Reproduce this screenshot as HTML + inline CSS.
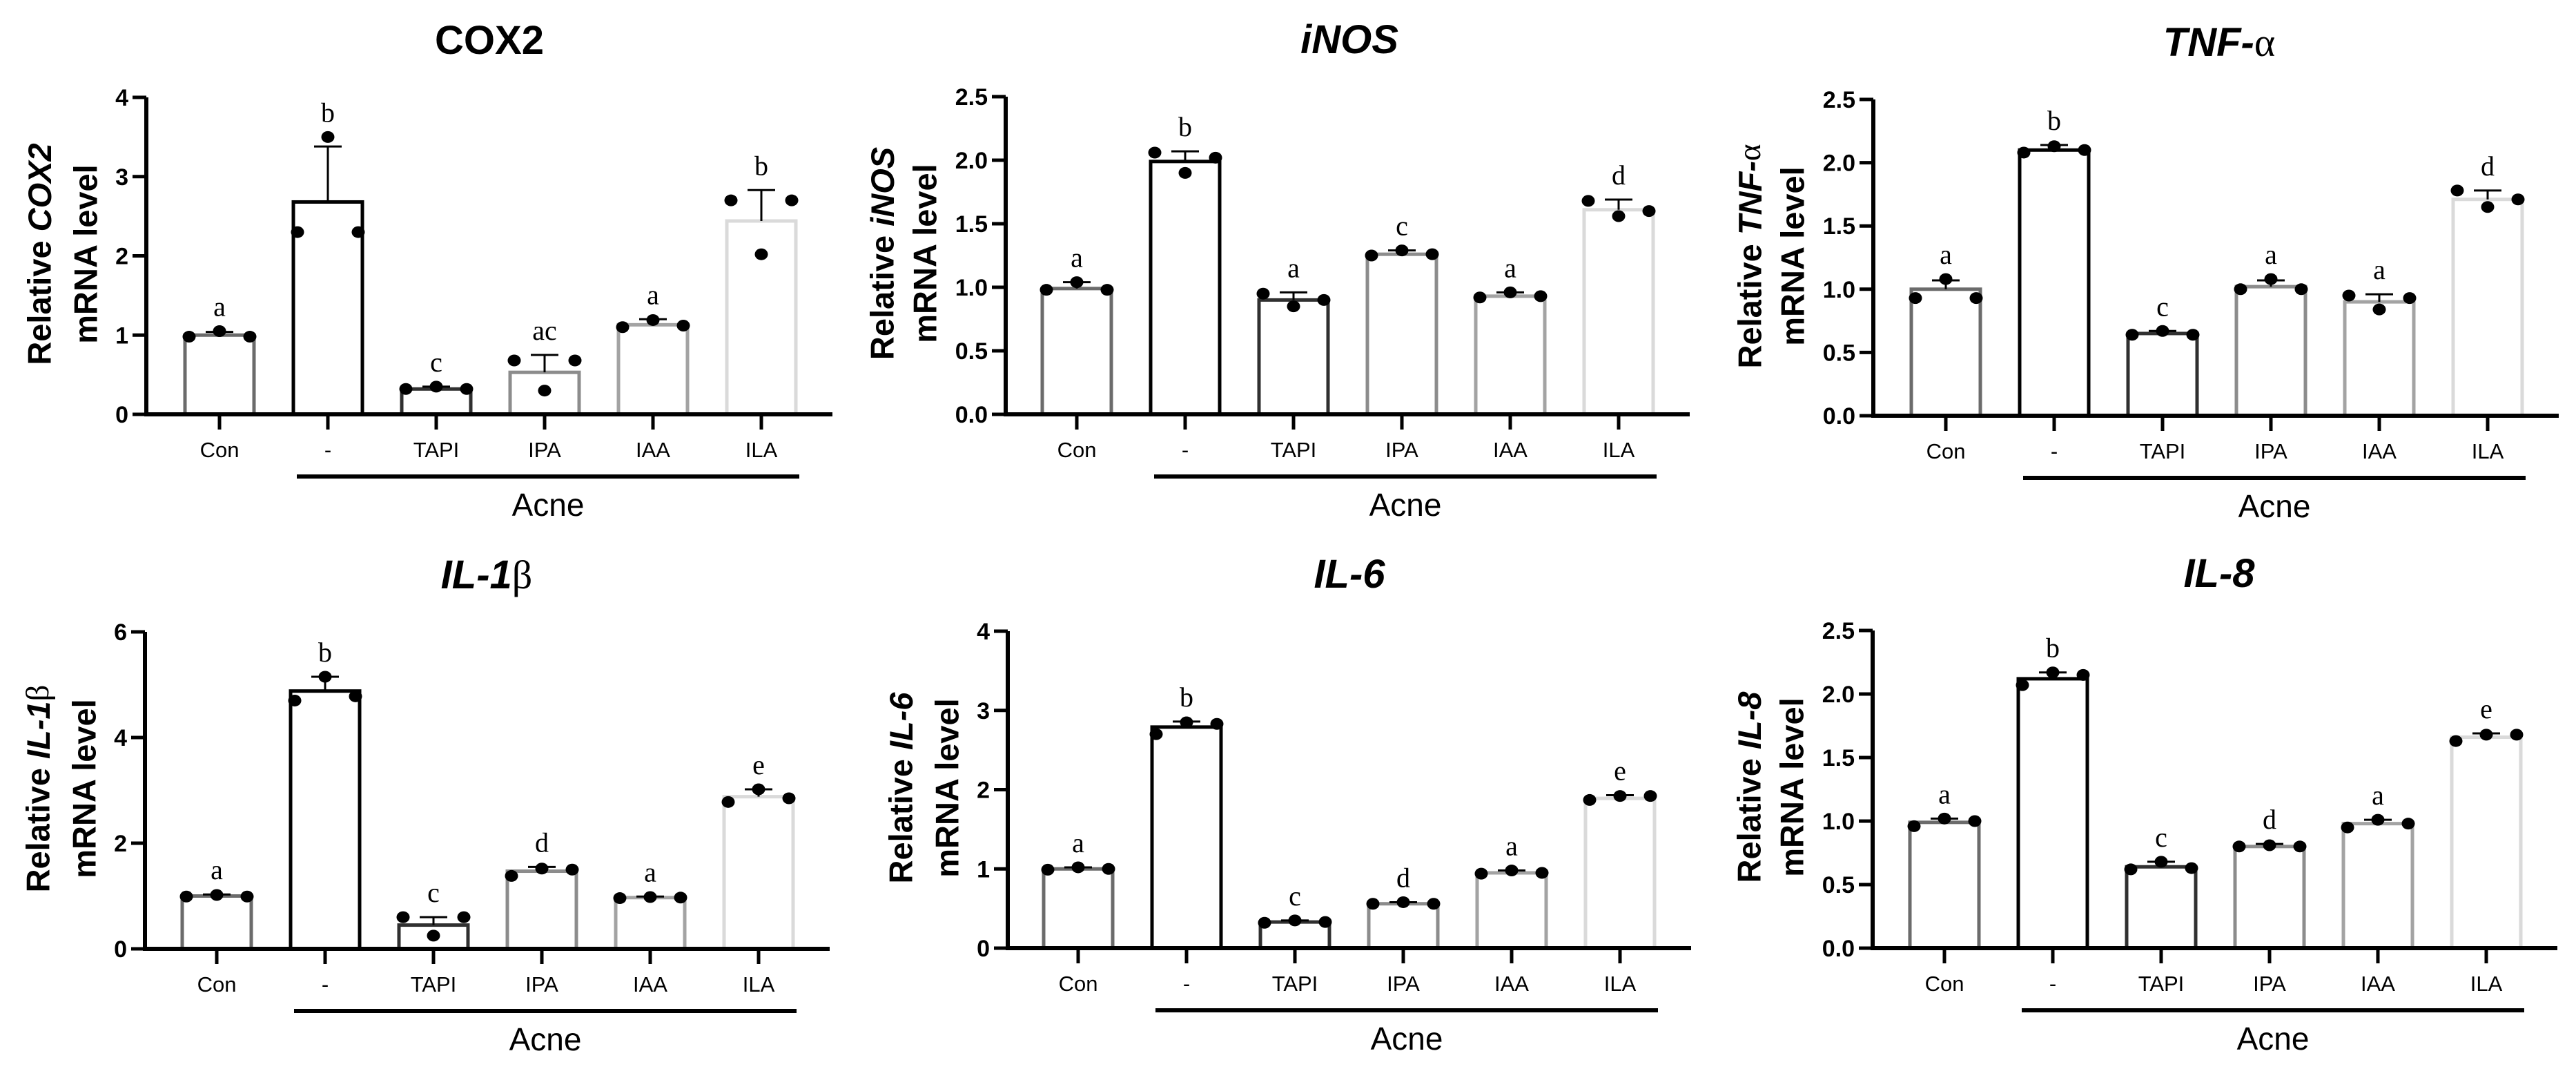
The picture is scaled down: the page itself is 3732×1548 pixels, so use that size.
<!DOCTYPE html>
<html><head><meta charset="utf-8">
<style>
html,body{margin:0;padding:0;background:#fff;}
svg{display:block;}
.tick{font-family:"Liberation Sans Narrow","Liberation Sans",sans-serif;font-size:31px;fill:#000;}
.ytick{font-family:"Liberation Sans Narrow","Liberation Sans",sans-serif;font-weight:bold;font-size:34px;fill:#000;}
.title{font-family:"Liberation Sans",sans-serif;font-weight:bold;font-size:58px;fill:#000;}
.ytitle{font-family:"Liberation Sans",sans-serif;font-weight:bold;font-size:47px;fill:#000;}
.sig{font-family:"Liberation Serif",serif;font-size:40px;fill:#000;}
.acne{font-family:"Liberation Sans Narrow","Liberation Sans",sans-serif;font-size:46px;fill:#000;}
.greek{font-family:"Liberation Serif",serif;font-weight:normal;font-style:normal;}
</style></head>
<body>
<svg id="fig" width="3732" height="1548" viewBox="0 0 3732 1548" xmlns="http://www.w3.org/2000/svg"></svg>
<script>
// ---- data ----
const categories = ["Con","-","TAPI","IPA","IAA","ILA"];
const sigLetters = {
  cox2:["a","b","c","ac","a","b"],
  inos:["a","b","a","c","a","d"],
  tnf:["a","b","c","a","a","d"],
  il1b:["a","b","c","d","a","e"],
  il6:["a","b","c","d","a","e"],
  il8:["a","b","c","d","a","e"]
};
const cox2Means = [1.0,2.68,0.32,0.53,1.13,2.44];
const cox2Err   = [1.04,3.38,0.35,0.75,1.2,2.83];
const cox2Pts   = [[0.98,1.05,0.98],[2.3,3.5,2.3],[0.32,0.35,0.32],[0.68,0.3,0.68],[1.1,1.19,1.12],[2.7,2.02,2.7]];
const inosMeans = [0.99,1.99,0.9,1.26,0.93,1.61];
const inosErr   = [1.04,2.07,0.96,1.29,0.96,1.69];
const inosPts   = [[0.98,1.04,0.98],[2.06,1.9,2.02],[0.95,0.85,0.9],[1.25,1.29,1.26],[0.92,0.96,0.93],[1.68,1.56,1.6]];
const tnfMeans = [1.0,2.1,0.65,1.02,0.9,1.71];
const tnfErr   = [1.07,2.14,0.67,1.07,0.96,1.78];
const tnfPts   = [[0.93,1.08,0.93],[2.08,2.13,2.1],[0.64,0.67,0.64],[1.0,1.08,1.0],[0.95,0.84,0.93],[1.78,1.65,1.71]];
const il1bMeans = [1.0,4.88,0.45,1.47,0.97,2.88];
const il1bErr   = [1.03,5.15,0.6,1.55,0.99,3.02];
const il1bPts   = [[0.99,1.02,0.99],[4.7,5.15,4.78],[0.6,0.25,0.6],[1.38,1.52,1.5],[0.96,0.98,0.97],[2.78,3.02,2.85]];
const il6Means = [1.0,2.79,0.33,0.56,0.95,1.89];
const il6Err   = [1.02,2.86,0.35,0.58,0.98,1.93];
const il6Pts   = [[0.99,1.02,1.0],[2.7,2.85,2.83],[0.32,0.35,0.33],[0.56,0.58,0.56],[0.94,0.98,0.95],[1.87,1.92,1.92]];
const il8Means = [0.99,2.12,0.64,0.8,0.98,1.66];
const il8Err   = [1.02,2.17,0.68,0.82,1.01,1.69];
const il8Pts   = [[0.96,1.02,1.0],[2.07,2.17,2.15],[0.62,0.68,0.63],[0.8,0.81,0.8],[0.95,1.01,0.98],[1.63,1.68,1.68]];
const ticksInt4 = ["0","1","2","3","4"];
const ticksInt6 = ["0","2","4","6"];
const ticksDec = ["0.0","0.5","1.0","1.5","2.0","2.5"];

// ---- layout ----
const NS="http://www.w3.org/2000/svg";
const svg=document.getElementById('fig');
const barColors=["#6b6b6b","#000000","#303030","#8c8c8c","#a3a3a3","#dadada"];
function el(tag,attrs,parent){const e=document.createElementNS(NS,tag);for(const k in attrs)e.setAttribute(k,attrs[k]);(parent||svg).appendChild(e);return e;}

const panels=[
 {key:"cox2",title:'COX2',titleItalic:false,gene:'COX2',means:cox2Means,err:cox2Err,pts:cox2Pts,ticks:ticksInt4,max:4,ax:212,top:141,base:600,c0:318,tx:709,ty1:-155,ty2:-88},
 {key:"inos",title:'iNOS',titleItalic:true,gene:'iNOS',means:inosMeans,err:inosErr,pts:inosPts,ticks:ticksDec,max:2.5,ax:1457,top:140,base:600,c0:1560,tx:1955,ty1:-179,ty2:-117},
 {key:"tnf",title:'TNF-',greek:'α',titleItalic:true,gene:'TNF-',means:tnfMeans,err:tnfErr,pts:tnfPts,ticks:ticksDec,max:2.5,ax:2714,top:144,base:602,c0:2819,tx:3215,ty1:-179,ty2:-117},
 {key:"il1b",title:'IL-1',greek:'β',titleItalic:true,gene:'IL-1',means:il1bMeans,err:il1bErr,pts:il1bPts,ticks:ticksInt6,max:6,ax:210,top:915,base:1374,c0:314,tx:705,ty1:-155,ty2:-88},
 {key:"il6",title:'IL-6',titleItalic:true,gene:'IL-6',means:il6Means,err:il6Err,pts:il6Pts,ticks:ticksInt4,max:4,ax:1460,top:914,base:1373,c0:1562,tx:1955,ty1:-155,ty2:-88},
 {key:"il8",title:'IL-8',titleItalic:true,gene:'IL-8',means:il8Means,err:il8Err,pts:il8Pts,ticks:ticksDec,max:2.5,ax:2713,top:913,base:1373,c0:2817,tx:3215,ty1:-179,ty2:-117}
];
const step=157, barW=100, jitter=[-44,0,44];

panels.forEach(p=>{
  const g=el('g',{});
  
  
  const y=v=>p.base-(v/p.max)*(p.base-p.top);
  const x=i=>p.c0+i*step;
  const t=el('text',{x:p.tx,y:p.top-63,'text-anchor':'middle',class:'title','font-style':p.titleItalic?'italic':'normal'},g);
  
  
  t.textContent=p.title;
  if(p.greek){const s=el('tspan',{class:'greek'},t);s.textContent=p.greek;}
  const cy=p.top+227;
  const yt=el('text',{transform:`translate(${p.ax+p.ty1},${cy}) rotate(-90)`,'text-anchor':'middle',class:'ytitle','dominant-baseline':'central'},g);
  
  
  yt.appendChild(document.createTextNode('Relative '));
  const gi=el('tspan',{'font-style':'italic'},yt);gi.textContent=p.gene;
  if(p.greek){const s=el('tspan',{class:'greek','font-weight':'normal'},yt);s.textContent=p.greek;}
  const yt2=el('text',{transform:`translate(${p.ax+p.ty2},${cy}) rotate(-90)`,'text-anchor':'middle',class:'ytitle','dominant-baseline':'central'},g);
  
  
  yt2.textContent='mRNA level';
  p.means.forEach((m,i)=>{
    const r=el('rect',{x:x(i)-barW/2,y:y(m),width:barW,height:p.base-y(m),fill:'#fff',stroke:barColors[i],'stroke-width':5},g);
    
    
  });
  p.err.forEach((e,i)=>{
    const l=el('path',{d:`M${x(i)} ${y(p.means[i])}V${y(e)}M${x(i)-20} ${y(e)}H${x(i)+20}`,stroke:'#000','stroke-width':3,fill:'none'},g);
    
    
  });
  p.pts.forEach((arr,i)=>arr.forEach((v,j)=>{
    const c=el('ellipse',{cx:x(i)+jitter[j],cy:y(v),rx:9.5,ry:8.5,fill:'#000'},g);
    
    
  }));
  p.err.forEach((e,i)=>{
    const top=Math.max(e,...p.pts[i]);
    const s=el('text',{x:x(i),y:y(top)-22,'text-anchor':'middle',class:'sig'},g);
    
    
    s.textContent=sigLetters[p.key][i];
  });
  const ya=el('path',{d:`M${p.ax} ${p.top}V${p.base+3}`,stroke:'#000','stroke-width':6,fill:'none'},g);
  
  
  const xa=el('path',{d:`M${p.ax-3} ${p.base}H${p.c0+5*step+103}`,stroke:'#000','stroke-width':6,fill:'none'},g);
  
  
  p.ticks.forEach((lab,k)=>{
    const v=k*p.max/(p.ticks.length-1);
    el('path',{d:`M${p.ax-20} ${y(v)}H${p.ax}`,stroke:'#000','stroke-width':5},g);
    const tl=el('text',{x:p.ax-26,y:y(v)+12,'text-anchor':'end',class:'ytick'},g);
    
    
    tl.textContent=lab;
  });
  categories.forEach((c,i)=>{
    el('path',{d:`M${x(i)} ${p.base}V${p.base+22}`,stroke:'#000','stroke-width':5},g);
    const tl=el('text',{x:x(i),y:p.base+62,'text-anchor':'middle',class:'tick'},g);
    
    
    tl.textContent=c;
  });
  const al=el('path',{d:`M${x(1)-45} ${p.base+90}H${x(5)+55}`,stroke:'#000','stroke-width':6},g);
  
  
  const at=el('text',{x:(x(1)+x(5))/2+5,y:p.base+147,'text-anchor':'middle',class:'acne'},g);
  
  
  at.textContent='Acne';
});
</script>
</body></html>
